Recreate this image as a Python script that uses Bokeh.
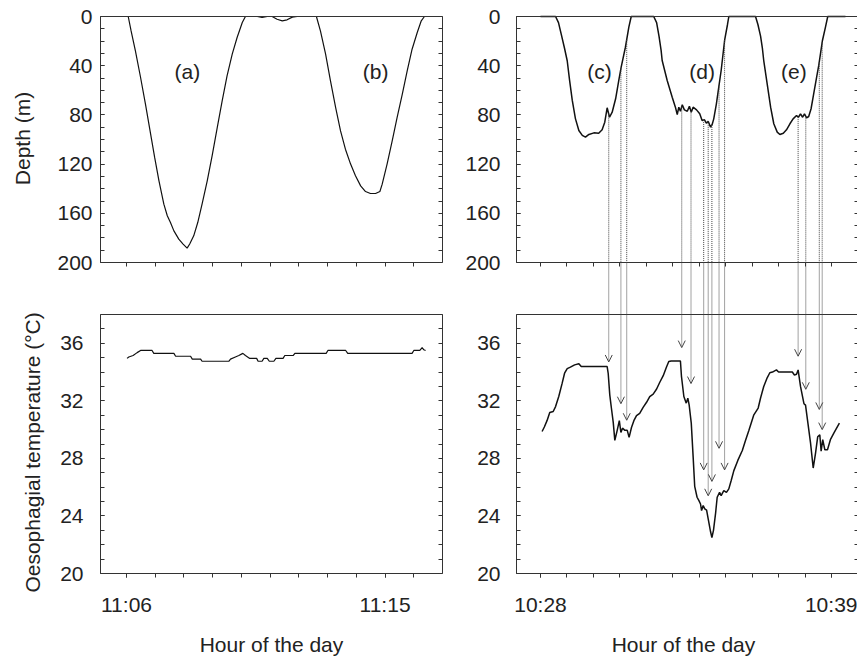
import math
from bokeh.plotting import figure
from bokeh.models import (Range1d, LinearAxis, FixedTicker, Label, Arrow,
                          OpenHead, ColumnDataSource)
from bokeh.layouts import row
from bokeh.embed import file_html
from bokeh.resources import INLINE

# ---------------- data ----------------
# Left: dives (a) and (b); time in minutes after 11:00
left_depth_time = [6.02, 6.06, 6.16, 6.31, 6.49, 6.66, 6.84, 6.98, 7.13, 7.30,
                   7.42, 7.53, 7.65, 7.82, 7.97, 8.11, 8.20, 8.34, 8.48, 8.63,
                   8.81, 8.98, 9.16, 9.33, 9.50, 9.68, 9.85, 10.03, 10.14, 10.55,
                   10.72, 10.90, 11.07, 11.24, 11.42, 11.59, 11.77, 11.94, 12.61, 12.75,
                   12.93, 13.10, 13.28, 13.45, 13.62, 13.80, 13.97, 14.15, 14.32, 14.49,
                   14.67, 14.82, 14.90, 15.07, 15.25, 15.42, 15.60, 15.77, 15.94, 16.12,
                   16.26, 16.37, 16.41]
left_depth = [0, 0, 11.7, 27.9, 49.6, 71.3, 95.7, 114.6, 133.6, 152.6,
              162, 167.5, 174.3, 181, 185, 188.3, 185, 178.3, 167.5, 152.6,
              133.6, 113.3, 90.2, 68.6, 48.2, 30.6, 17.1, 4.9, 0, 0,
              0.8, 0, 0, 2.2, 3.5, 2.7, 0.5, 0, 0, 11.7,
              30.6, 52.3, 74, 93, 107.9, 120, 129.5, 137.7, 142.3, 143.9,
              143.9, 142.3, 136.3, 120, 101, 82.1, 63.1, 44.2, 26.6, 13,
              3.5, 0, 0]
left_temp_time = [6.02, 6.08, 6.23, 6.37, 6.49, 6.89, 6.95, 7.65, 7.71, 8.23,
                  8.29, 8.58, 8.63, 9.56, 9.62, 9.79, 9.91, 10.05, 10.14, 10.29,
                  10.53, 10.58, 10.72, 10.78, 10.90, 10.97, 11.13, 11.20, 11.45, 11.51,
                  11.80, 11.86, 12.95, 13.01, 13.63, 13.70, 15.94, 16.00, 16.21, 16.29,
                  16.35, 16.41]
left_temp = [34.95, 35.05, 35.15, 35.35, 35.5, 35.5, 35.3, 35.3, 35.1, 35.1,
             34.9, 34.9, 34.75, 34.75, 34.9, 35.05, 35.15, 35.3, 35.15, 34.95,
             34.95, 34.75, 34.75, 34.95, 34.95, 34.75, 34.75, 34.95, 34.95, 35.15,
             35.15, 35.3, 35.3, 35.5, 35.5, 35.3, 35.3, 35.5, 35.5, 35.7,
             35.55, 35.5]

# Right: dives (c), (d), (e); time in minutes after 10:00
right_depth_time = [28.00, 28.57, 28.68, 28.79, 28.91, 29.01, 29.10, 29.20, 29.32, 29.45,
                    29.58, 29.70, 29.83, 30.02, 30.20, 30.33, 30.43, 30.52, 30.61, 30.71,
                    30.84, 30.96, 31.05, 31.21, 31.34, 31.43, 32.28, 32.39, 32.48, 32.56,
                    32.60, 32.79, 32.98, 33.10, 33.17, 33.23, 33.29, 33.36, 33.44, 33.55,
                    33.63, 33.70, 33.77, 33.90, 34.02, 34.11, 34.20, 34.27, 34.34, 34.43,
                    34.49, 34.55, 34.65, 34.74, 34.83, 34.96, 35.07, 35.12, 36.13, 36.22,
                    36.32, 36.39, 36.44, 36.57, 36.70, 36.82, 36.95, 37.05, 37.18, 37.30,
                    37.43, 37.55, 37.68, 37.75, 37.83, 37.91, 37.98, 38.06, 38.14, 38.23,
                    38.33, 38.44, 38.52, 38.66, 38.78, 38.86, 39.53]
right_depth = [0, 0, 5, 15, 26, 36, 52, 68, 83, 92.7,
               96.7, 98.1, 95.9, 94.6, 94.9, 92.1, 85.9, 74.2, 81.9, 77.8,
               66.9, 52, 41.2, 25, 8.7, 0, 0, 5, 16, 27.6,
               35.8, 52, 65.6, 73.7, 79.7, 73.7, 77, 71.8, 75.9, 77,
               72.9, 77.8, 73.7, 75.9, 79.1, 84.6, 84, 86.7, 85.1, 90,
               87.8, 83.2, 71, 57.5, 43.9, 19.5, 6.5, 0, 0, 6.5,
               16, 26, 35.8, 54.7, 73.7, 87.2, 94, 95.9, 94.9, 92.1,
               87.2, 83.2, 80.5, 81.9, 79.1, 81.9, 79.1, 82.4, 81.3, 75,
               62.8, 49.3, 39.8, 19.5, 8, 0, 0]
right_temp_time = [28.06, 28.15, 28.25, 28.35, 28.48, 28.57, 28.69, 28.82, 28.91, 29.01,
                   29.13, 29.29, 29.45, 29.54, 30.52, 30.56, 30.62, 30.68, 30.75, 30.81,
                   30.90, 30.98, 31.04, 31.10, 31.19, 31.28, 31.35, 31.44, 31.53, 31.63,
                   31.75, 31.88, 32.01, 32.13, 32.26, 32.39, 32.51, 32.64, 32.76, 32.85,
                   32.94, 33.29, 33.33, 33.42, 33.51, 33.57, 33.62, 33.70, 33.77, 33.83,
                   33.92, 33.99, 34.05, 34.09, 34.15, 34.21, 34.28, 34.34, 34.43, 34.48,
                   34.54, 34.62, 34.68, 34.77, 34.83, 34.93, 35.03, 35.12, 35.21, 35.31,
                   35.46, 35.63, 35.75, 35.88, 36.06, 36.23, 36.32, 36.44, 36.57, 36.67,
                   36.77, 36.92, 37.00, 37.52, 37.60, 37.68, 37.74, 37.83, 37.96, 38.02,
                   38.11, 38.21, 38.31, 38.40, 38.48, 38.56, 38.61, 38.67, 38.75, 38.85,
                   38.96, 39.09, 39.30]
right_temp = [29.87, 30.2, 30.64, 31.19, 31.26, 31.6, 32.3, 33.23, 33.92, 34.24,
              34.34, 34.5, 34.57, 34.38, 34.38, 33.9, 32.4, 31.5, 30.5, 29.25,
              29.95, 30.62, 29.8, 30.1, 29.95, 29.95, 29.46, 30.15, 30.62, 30.97,
              31.13, 31.55, 31.9, 32.3, 32.47, 32.82, 33.29, 33.75, 34.33, 34.73,
              34.77, 34.77, 33.69, 32.3, 31.84, 32.18, 31.72, 30.45, 28.14, 26.06,
              25.3, 25.06, 24.83, 24.37, 24.72, 24.49, 24.4, 23.8, 22.9, 22.5,
              23.0, 24.2, 25.3, 25.64, 25.41, 25.76, 25.64, 25.88, 26.46, 27.15,
              27.86, 28.55, 29.25, 29.95, 31.0, 31.5, 32.2, 33.0, 33.6, 33.95,
              34.0, 34.15, 34.0, 34.0, 33.8, 33.85, 34.15, 33.0, 31.8, 31.7,
              30.45, 29.06, 27.33, 28.38, 29.5, 29.64, 28.5, 29.3, 28.6, 28.6,
              29.3, 29.75, 30.45]

# Arrows linking a depth reading to the matching temperature moment
arrow_time = [30.58, 31.04, 31.26, 33.34, 33.69, 34.17, 34.34, 34.48, 34.75, 34.96,
              37.74, 38.03, 38.54, 38.65]
arrow_depth = [79, 42.5, 19, 73.2, 77.2, 84.2, 85.1, 88.2, 56, 19.3,
               81.6, 81.2, 37.2, 21]
arrow_temp = [34.7, 31.8, 30.65, 35.7, 33.2, 27.2, 25.4, 26.4, 28.7, 27.2,
              35.1, 32.8, 31.4, 30.0]

left_minutes = list(range(6, 17))
left_tick_labels = {6: "11:06", 15: "11:15"}
right_minutes = list(range(28, 40))
right_tick_labels = {28: "10:28", 39: "10:39"}
depth_ticks = [0, 40, 80, 120, 160, 200]
depth_minor = list(range(0, 201, 10))
temp_ticks = [20, 24, 28, 32, 36]
temp_minor = list(range(20, 39))
left_dive_names = ["(a)", "(b)"]
left_dive_time = [8.12, 14.67]
right_dive_names = ["(c)", "(d)", "(e)"]
right_dive_time = [30.23, 34.11, 37.58]
dive_label_depth = 44.4

# ---------------- layout / style ----------------
FONT = "Liberation Sans"
FS = "21px"
AXIS_C = "#333333"
TEXT_C = "#222222"
LINE_C = "#111111"
ARROW_C = "#444444"

FIG_H = 657
LEFT_W, RIGHT_W = 454, 403
DEPTH_MAX = 200
TEMP_MIN, TEMP_MAX = 20, 38
# vertical placement (pixels from top of the figure)
DEPTH0_PX, DEPTH200_PX = 16, 262
TEMP38_PX, TEMP20_PX = 314, 573
M_PER_PX = DEPTH_MAX / (DEPTH200_PX - DEPTH0_PX)
C_PER_PX = (TEMP_MAX - TEMP_MIN) / (TEMP20_PX - TEMP38_PX)


def temp_at(py):
    return TEMP_MIN + (TEMP20_PX - py) * C_PER_PX


def depth_at(py):
    return (py - DEPTH0_PX) * M_PER_PX


JUNCTION_T = temp_at(DEPTH200_PX)
TOP_T = temp_at(DEPTH0_PX)


def style(ax, standoff=10):
    ax.axis_line_color = AXIS_C
    ax.axis_line_width = 1
    ax.major_tick_line_color = AXIS_C
    ax.minor_tick_line_color = AXIS_C
    ax.major_label_text_font = FONT
    ax.major_label_text_font_size = FS
    ax.major_label_text_color = TEXT_C
    ax.major_label_standoff = standoff
    return ax


def make_panel(width, t0, t0_px, px_per_min, panel_px, minutes, tick_labels,
               d_t, d_v, t_t, t_v, d_stand, t_stand, lw, title_px):
    def x_at(px):
        return t0 + (px - t0_px) / px_per_min

    x_lo, x_hi = x_at(panel_px[0]), x_at(panel_px[1])
    p = figure(width=width, height=FIG_H,
               x_range=Range1d(x_at(0), x_at(width)),
               y_range=Range1d(temp_at(FIG_H), temp_at(0)),
               x_axis_location=None, y_axis_location=None,
               toolbar_location=None, output_backend="svg",
               min_border=0, outline_line_color=None,
               background_fill_color="white", border_fill_color="white")
    p.extra_y_ranges = {"depth": Range1d(depth_at(FIG_H), depth_at(0))}
    p.xgrid.grid_line_color = None
    p.ygrid.grid_line_color = None

    # left axes
    p.add_layout(style(LinearAxis(y_range_name="depth", fixed_location=x_lo,
                                  bounds=(0, DEPTH_MAX),
                                  ticker=FixedTicker(ticks=depth_ticks, minor_ticks=depth_minor),
                                  major_tick_in=4, major_tick_out=0,
                                  minor_tick_in=4, minor_tick_out=0), d_stand), "left")
    p.add_layout(style(LinearAxis(fixed_location=x_lo, bounds=(TEMP_MIN, TEMP_MAX),
                                  ticker=FixedTicker(ticks=temp_ticks, minor_ticks=temp_minor),
                                  major_tick_in=4, major_tick_out=0,
                                  minor_tick_in=4, minor_tick_out=0), t_stand), "left")
    # right axes (ticks only)
    p.add_layout(style(LinearAxis(y_range_name="depth", fixed_location=x_hi,
                                  bounds=(0, DEPTH_MAX),
                                  ticker=FixedTicker(ticks=[], minor_ticks=depth_minor),
                                  major_tick_in=0, major_tick_out=0,
                                  minor_tick_in=4, minor_tick_out=0)), "right")
    p.add_layout(style(LinearAxis(fixed_location=x_hi, bounds=(TEMP_MIN, TEMP_MAX),
                                  ticker=FixedTicker(ticks=[], minor_ticks=temp_minor),
                                  major_tick_in=0, major_tick_out=0,
                                  minor_tick_in=4, minor_tick_out=0)), "right")
    # bottom time axis
    p.add_layout(style(LinearAxis(fixed_location=TEMP_MIN, bounds=(x_lo, x_hi),
                                  ticker=FixedTicker(ticks=list(tick_labels.keys()),
                                                     minor_ticks=minutes),
                                  major_label_overrides=tick_labels,
                                  major_tick_in=0, major_tick_out=4,
                                  minor_tick_in=0, minor_tick_out=4), 15), "below")
    # x axis of the depth panel (ticks only)
    p.add_layout(style(LinearAxis(fixed_location=JUNCTION_T, bounds=(x_lo, x_hi),
                                  ticker=FixedTicker(ticks=[], minor_ticks=minutes),
                                  major_tick_in=0, major_tick_out=0,
                                  minor_tick_in=0, minor_tick_out=4)), "below")
    # top borders of the two panels
    for loc in (TOP_T, TEMP_MAX):
        p.add_layout(style(LinearAxis(fixed_location=loc, bounds=(x_lo, x_hi),
                                      ticker=FixedTicker(ticks=[]),
                                      major_tick_in=0, major_tick_out=0)), "above")

    p.line(d_t, d_v, y_range_name="depth", line_color=LINE_C, line_width=lw)
    p.line(t_t, t_v, line_color=LINE_C, line_width=lw)

    # "Hour of the day" title, kept fully inside the canvas
    p.add_layout(Label(x=x_at(title_px), y=temp_at(FIG_H - 2), text="Hour of the day",
                       text_align="center", text_baseline="bottom",
                       text_font=FONT, text_font_size=FS, text_color=TEXT_C))
    return p, x_at


left, lx = make_panel(LEFT_W, 6, 126, 28.73, (100, 442), left_minutes, left_tick_labels,
                      left_depth_time, left_depth, left_temp_time, left_temp, 8, 17, 1.2, 271)
right, rx = make_panel(RIGHT_W, 28, 86, 26.45, (62, 404), right_minutes, right_tick_labels,
                       right_depth_time, right_depth, right_temp_time, right_temp, 16, 16, 1.5,
                       229)

# y titles (left column only)
left.add_layout(Label(x=lx(22), y=depth_at(138), y_range_name="depth",
                      text="Depth (m)", angle=math.pi / 2,
                      text_align="center", text_baseline="middle",
                      text_font=FONT, text_font_size=FS, text_color=TEXT_C))
left.add_layout(Label(x=lx(32), y=temp_at(449),
                      text="Oesophagial temperature  (°C)", angle=math.pi / 2,
                      text_align="center", text_baseline="middle",
                      text_font=FONT, text_font_size=FS, text_color=TEXT_C))

# dive labels
for p, names, times in ((left, left_dive_names, left_dive_time),
                        (right, right_dive_names, right_dive_time)):
    for name, t in zip(names, times):
        p.add_layout(Label(x=t, y=dive_label_depth, y_range_name="depth", text=name,
                           text_align="center", text_baseline="middle",
                           text_font=FONT, text_font_size=FS, text_color=TEXT_C))

# dotted arrows from depth panel to temperature panel
n = len(arrow_time)
right.segment(x0=arrow_time, y0=arrow_depth, x1=arrow_time, y1=[DEPTH_MAX] * n,
              y_range_name="depth", line_color=ARROW_C, line_width=1, line_dash="1 1")
arrow_src = ColumnDataSource(dict(x=arrow_time, y0=[JUNCTION_T] * n, y1=arrow_temp))
right.add_layout(Arrow(source=arrow_src, x_start="x", y_start="y0", x_end="x", y_end="y1",
                       line_color=ARROW_C, line_width=1, line_dash="1 1",
                       end=OpenHead(size=7, line_color=ARROW_C, line_width=1)))

layout = row(left, right)
open("out.html", "w").write(file_html(layout, INLINE))
